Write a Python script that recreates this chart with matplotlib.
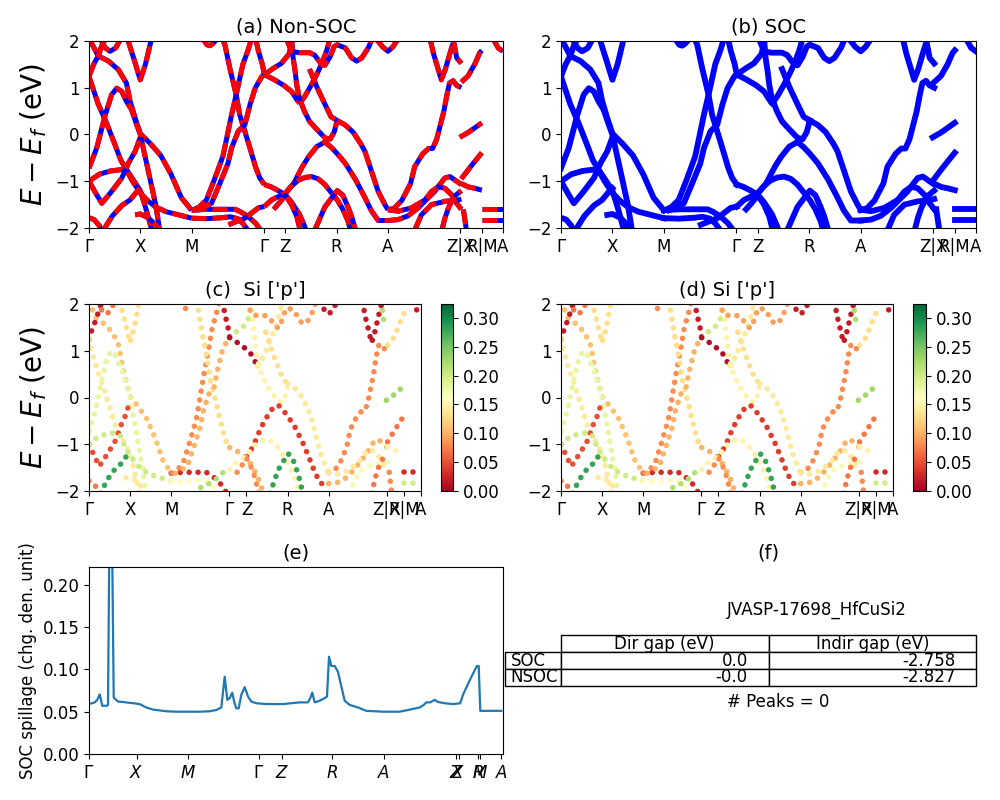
import matplotlib
matplotlib.use("Agg")
import matplotlib.pyplot as plt
from matplotlib.table import Table
from matplotlib import cm, colors

plt.rcParams['font.family'] = ['DejaVu Sans']
plt.rcParams['font.size'] = 12

# ---------------- data ----------------
kticks = [0, 1.0, 2.0, 3.414, 3.829, 4.829, 5.829, 7.243, 7.658, 8.073]
klabels = ['Γ', 'X', 'M', 'Γ', 'Z', 'R', 'A', 'Z|X', 'R|M', 'A']

# bands: (k, E, Si-p weight), grouped by path section
bands_GXM = [
    ([0, 0.1, 0.18, 0.38, 0.57, 0.73, 0.8, 0.9, 1.0, 1.2, 1.4, 1.6, 1.8, 2.0],
     [2.05, 1.85, 1.68, 1.57, 1.39, 1.1, 0.72, 0.35, 0.02, -0.2, -0.45, -0.85, -1.35, -1.62], 0.11),
    ([0, 0.09, 0.18, 0.25, 0.32], [1.24, 1.5, 1.68, 1.9, 2.05], 0.02),
    ([0.22, 0.32, 0.41, 0.52, 0.62], [2.05, 1.85, 1.78, 1.85, 2.05], 0.07),
    ([0, 0.18, 0.34, 0.5, 0.62, 0.73, 0.85, 1.0, 1.1, 1.2, 1.23],
     [1.24, 0.65, 0.25, -0.2, -0.55, -0.75, -0.95, -1.2, -1.55, -1.95, -2.05], 0.14),
    ([0, 0.15, 0.31, 0.44, 0.54, 0.64, 0.73, 0.83, 0.93, 1.0, 1.1, 1.2, 1.3, 1.38],
     [-0.72, -0.29, 0.39, 0.85, 0.99, 0.92, 0.71, 0.53, 0.21, 0.0, -0.5, -1.0, -1.5, -2.05], 0.18),
    ([0.75, 0.88, 1.0, 1.1, 1.22], [2.05, 1.6, 1.17, 1.5, 2.05], 0.13),
    ([0, 0.15, 0.25, 0.44, 0.64, 0.77, 0.9, 1.0],
     [-1.0, -1.29, -1.47, -1.22, -0.93, -0.61, -0.36, -0.06], 0.05),
    ([0, 0.2, 0.42, 0.64, 0.75, 0.85, 1.0, 1.15, 1.3, 1.5, 1.75, 2.0],
     [-1.0, -0.85, -0.78, -0.75, -0.8, -1.0, -1.25, -1.42, -1.55, -1.65, -1.72, -1.79], 0.2),
    ([0, 0.1, 0.2, 0.25], [-1.78, -1.82, -1.95, -2.05], 0.07),
    ([0.28, 0.45, 0.64, 0.8, 0.95, 1.0], [-2.05, -1.75, -1.52, -1.4, -1.2, -1.15], 0.28),
    ([0.9, 1.0, 1.15, 1.3, 1.36], [-1.72, -1.7, -1.78, -1.93, -2.05], 0.14),
]

bands_MG = [
    ([2.0, 2.3, 2.6, 2.85, 2.95, 3.1, 3.25, 3.35],
     [-1.62, -1.6, -1.6, -1.6, -1.65, -1.75, -1.9, -2.05], 0.03),
    ([2.0, 2.3, 2.6, 2.75, 2.9, 3.0, 3.1],
     [-1.79, -1.8, -1.78, -1.76, -1.8, -1.9, -2.05], 0.16),
    ([2.02, 2.15, 2.29, 2.45, 2.61, 2.7, 2.78, 2.87, 3.0, 3.1, 3.17],
     [-1.62, -1.55, -1.4, -0.95, -0.47, 0.0, 0.42, 0.85, 1.5, 1.8, 2.05], 0.08),
    ([2.6, 2.65, 2.75, 2.87, 2.94, 3.1, 3.25, 3.33, 3.42],
     [2.05, 1.92, 1.4, 0.85, 0.42, -0.15, -0.7, -0.93, -1.07], 0.13),
    ([2.1, 2.25, 2.39, 2.55, 2.71, 2.78, 2.91, 3.04, 3.14, 3.24, 3.37, 3.42],
     [-1.62, -1.55, -1.47, -1.05, -0.62, -0.29, 0.07, 0.21, 0.64, 0.99, 1.24, 1.28], 0.1),
    ([3.25, 3.3, 3.38, 3.42], [2.05, 1.8, 1.5, 1.28], 0.02),
    ([2.22, 2.3, 2.36, 2.42, 2.5], [2.05, 1.92, 1.9, 1.95, 2.05], 0.08),
    ([2.72, 3.04, 3.3, 3.42], [-1.93, -1.79, -1.57, -1.54], 0.22),
]

bands_GZRA = [
    ([3.42, 3.6, 3.75, 3.9, 3.97], [1.28, 1.42, 1.52, 1.72, 2.05], 0.2),
    ([3.42, 3.6, 3.8, 3.95, 4.05, 4.11], [1.28, 1.18, 1.05, 0.92, 0.75, 0.67], 0.01),
    ([4.11, 4.21, 4.34, 4.47, 4.55, 4.63, 4.7], [0.67, 0.82, 1.07, 1.35, 1.55, 1.78, 2.05], 0.14),
    ([3.95, 3.98, 4.02, 4.05, 4.1, 4.2, 4.3, 4.45, 4.6, 4.7, 4.78, 4.84],
     [2.05, 1.64, 1.35, 1.07, 0.78, 0.5, 0.28, 0.1, -0.07, -0.1, 0.05, 0.3], 0.15),
    ([4.3, 4.45, 4.6, 4.72, 4.84], [1.4, 1.0, 0.65, 0.38, 0.3], 0.13),
    ([3.85, 3.95, 4.1, 4.3, 4.4, 4.5, 4.6, 4.7, 4.78, 4.84, 5.0, 5.12, 5.22, 5.32, 5.45, 5.52],
     [2.05, 1.78, 1.75, 1.75, 1.7, 1.55, 1.48, 1.66, 1.88, 1.92, 1.85, 1.64, 1.57, 1.64, 1.86, 2.05], 0.09),
    ([3.83, 3.99, 4.16, 4.28, 4.44, 4.6, 4.72, 4.84, 5.0, 5.2, 5.38, 5.5, 5.64, 5.83],
     [-1.26, -1.05, -0.69, -0.48, -0.26, -0.16, -0.27, -0.41, -0.62, -0.97, -1.35, -1.62, -1.84, -1.84], 0.04),
    ([4.84, 5.0, 5.15, 5.3, 5.38, 5.51, 5.64, 5.77, 5.83],
     [0.3, 0.2, 0.05, -0.2, -0.36, -0.79, -1.22, -1.5, -1.61], 0.14),
    ([3.42, 3.55, 3.69, 3.83, 3.95, 4.1, 4.2, 4.23],
     [-1.07, -1.12, -1.2, -1.29, -1.45, -1.7, -1.95, -2.05], 0.1),
    ([3.42, 3.56, 3.69, 3.83, 3.95, 4.08, 4.21, 4.34, 4.47, 4.6, 4.73, 4.84, 4.95, 5.05, 5.1],
     [-1.54, -1.4, -1.33, -1.25, -1.1, -0.98, -0.92, -0.9, -0.95, -1.07, -1.25, -1.4, -1.6, -1.85, -2.05], 0.15),
    ([3.6, 3.72, 3.83, 3.95, 4.05, 4.12], [-1.6, -1.45, -1.3, -1.5, -1.75, -2.05], 0.08),
    ([4.4, 4.5, 4.6, 4.73, 4.84, 4.95, 5.05, 5.12, 5.2],
     [-2.05, -1.8, -1.55, -1.36, -1.2, -1.3, -1.55, -1.75, -2.05], 0.28),
]

bands_AZ = [
    ([5.6, 5.72, 5.83, 5.93, 6.03], [2.05, 1.88, 1.78, 1.88, 2.05], 0.02),
    ([5.83, 5.95, 6.1, 6.27, 6.35, 6.51, 6.62, 6.7, 6.78, 6.85, 6.92, 6.98, 7.03, 7.1, 7.17, 7.26],
     [-1.61, -1.58, -1.41, -1.05, -0.69, -0.41, -0.3, -0.3, -0.1, 0.2, 0.5, 0.85, 1.1, 1.15, 1.05, 1.0], 0.08),
    ([6.65, 6.72, 6.8, 6.87, 6.95, 7.05, 7.13], [2.05, 1.72, 1.43, 1.17, 1.4, 1.78, 2.05], 0.02),
    ([7.1, 7.17, 7.26], [2.05, 1.64, 1.52], 0.22),
    ([5.83, 6.03, 6.22, 6.42, 6.61, 6.74, 6.84, 6.94, 7.04, 7.13, 7.26],
     [-1.84, -1.82, -1.74, -1.57, -1.36, -1.22, -1.07, -0.93, -0.9, -0.97, -1.07], 0.1),
    ([5.83, 6.03, 6.29, 6.55, 6.68, 6.81, 6.94, 7.07, 7.17, 7.26],
     [-1.61, -1.64, -1.57, -1.4, -1.22, -1.12, -1.15, -1.29, -1.47, -1.6], 0.14),
    ([6.35, 6.48, 6.68, 6.94, 7.2, 7.26], [-2.05, -1.72, -1.5, -1.43, -1.4, -1.38], 0.17),
    ([6.88, 6.94, 7.01, 7.07, 7.15, 7.26], [-2.05, -1.79, -1.57, -1.43, -1.3, -1.2], 0.07),
]

bands_XRMA = [
    ([7.26, 7.39, 7.52, 7.62, 7.66], [1.12, 1.25, 1.5, 1.75, 1.8], 0.13),
    ([7.23, 7.39, 7.52, 7.66], [-0.06, 0.04, 0.14, 0.25], 0.23),
    ([7.26, 7.39, 7.52, 7.66], [-0.95, -0.76, -0.58, -0.39], 0.07),
    ([7.26, 7.39, 7.52, 7.66], [-1.05, -1.12, -1.15, -1.19], 0.15),
    ([7.3, 7.36], [-1.6, -2.05], 0.08),
    ([7.66, 7.86, 8.07], [-1.6, -1.6, -1.6], 0.03),
    ([7.66, 7.86, 8.07], [-1.82, -1.82, -1.82], 0.2),
    ([7.88, 7.98, 8.07], [2.05, 1.85, 1.78], 0.02),
]

all_bands = bands_GXM + bands_MG + bands_GZRA + bands_AZ + bands_XRMA

# SOC spillage
spill_ticks = [0, 47.7, 99.4, 170, 193.4, 243.4, 295, 366.7, 369.7, 388.7, 391, 412.4]
spill_labels = ['$\\Gamma$', '$X$', '$M$', '$\\Gamma$', '$Z$', '$R$', '$A$',
                '$Z$', '$X$', '$R$', '$M$', '$A$']
spill_x = [0.0, 5.7, 8.3, 10.7, 13.3, 18.0, 19.0, 20.7, 22.7, 24.7, 29.0, 37.3, 44.0,
           50.7, 57.3, 64.0, 77.3, 87.3, 110.7, 120.7, 127.3, 132.3, 135.7, 138.3,
           140.7, 143.3, 145.3, 147.3, 149.7, 152.3, 155.7, 159.0, 162.3, 167.3,
           177.3, 194.0, 210.7, 219.0, 221.3, 223.3, 225.7, 230.7, 235.7, 238.0,
           240.0, 242.3, 245.7, 249.0, 252.3, 255.7, 260.7, 269.0, 277.3, 294.0,
           310.7, 319.0, 330.7, 334.7, 337.3, 341.3, 345.7, 349.0, 355.7, 364.0,
           371.3, 374.0, 380.7, 385.7, 388.0, 389.7, 391.3, 400.7, 412.3]
spill_y = [0.059, 0.061, 0.064, 0.0705, 0.057, 0.057, 0.058, 0.30, 0.30, 0.0666, 0.062,
           0.061, 0.060, 0.059, 0.055, 0.0525, 0.0505, 0.050, 0.050, 0.0505, 0.052,
           0.055, 0.0914, 0.064, 0.066, 0.0725, 0.061, 0.054, 0.054, 0.070, 0.079,
           0.068, 0.062, 0.060, 0.059, 0.059, 0.061, 0.061, 0.066, 0.0725, 0.061,
           0.063, 0.066, 0.068, 0.115, 0.104, 0.104, 0.097, 0.080, 0.063, 0.058,
           0.055, 0.051, 0.050, 0.050, 0.052, 0.055, 0.058, 0.061, 0.061, 0.064,
           0.0615, 0.060, 0.059, 0.060, 0.070, 0.087, 0.099, 0.104, 0.104, 0.051,
           0.051, 0.051]

table_rows = ['SOC', 'NSOC']
table_cols = ['Dir gap (eV)', 'Indir gap (eV)']
table_vals = [['0.0', '-2.758'], ['-0.0', '-2.827']]
material = 'JVASP-17698_HfCuSi2'
peaks_text = '# Peaks = 0'

# ---------------- figure ----------------
fig = plt.figure(figsize=(10, 8), dpi=100)
W, H = 1000.0, 800.0


def box(x0, y0, x1, y1):
    return [x0 / W, 1 - y1 / H, (x1 - x0) / W, (y1 - y0) / H]


ax_a = fig.add_axes(box(89, 41, 503, 228))
ax_b = fig.add_axes(box(561, 41, 976, 228))
ax_c = fig.add_axes(box(89, 304, 421, 491))
cax_c = fig.add_axes(box(441, 304, 453, 491))
ax_d = fig.add_axes(box(561, 304, 893, 491))
cax_d = fig.add_axes(box(913, 304, 926, 491))
ax_e = fig.add_axes(box(89, 567, 503, 754))
ax_f = fig.add_axes(box(561, 567, 976, 754))

cmap = plt.get_cmap('RdYlGn')
norm = colors.Normalize(vmin=0.0, vmax=0.324)

for k, E, w in all_bands:
    ax_a.plot(k, E, color='blue', lw=3.6, solid_capstyle='butt')
    ax_a.plot(k, E, color='red', lw=3.6, ls=(0, (3.0, 1.2)))
    ax_b.plot(k, E, color='blue', lw=4.2)
    for ax in (ax_c, ax_d):
        ax.plot(k, E, color=cmap(norm(w)), lw=4.0, ls=(0, (0.01, 1.6)),
                dash_capstyle='round')

for ax in (ax_a, ax_b, ax_c, ax_d):
    ax.set_xlim(0, kticks[-1])
    ax.set_ylim(-2, 2)
    ax.set_xticks(kticks)
    ax.set_xticklabels(klabels)
    ax.set_yticks([-2, -1, 0, 1, 2])

ax_a.set_title('(a) Non-SOC', fontsize=14)
ax_b.set_title('(b) SOC', fontsize=14)
ax_c.set_title("(c)  Si ['p']", fontsize=14)
ax_d.set_title("(d) Si ['p']", fontsize=14)
ax_a.set_ylabel('$E - E_f$ (eV)', fontsize=20)
ax_c.set_ylabel('$E - E_f$ (eV)', fontsize=20)

for cax in (cax_c, cax_d):
    sm = cm.ScalarMappable(norm=norm, cmap=cmap)
    fig.colorbar(sm, cax=cax, ticks=[0, 0.05, 0.10, 0.15, 0.20, 0.25, 0.30])
    cax.yaxis.set_major_formatter(matplotlib.ticker.FormatStrFormatter('%.2f'))

# (e) spillage
ax_e.plot(spill_x, spill_y, color='#1f77b4', lw=1.6)
ax_e.set_xlim(0, 414)
ax_e.set_ylim(0, 0.221)
ax_e.set_xticks(spill_ticks)
ax_e.set_xticklabels(spill_labels)
ax_e.set_yticks([0.0, 0.05, 0.10, 0.15, 0.20])
ax_e.yaxis.set_major_formatter(matplotlib.ticker.FormatStrFormatter('%.2f'))
ax_e.set_ylabel('SOC spillage (chg. den. unit)', fontsize=12)
ax_e.set_title('(e)', fontsize=14)

# (f) table panel
ax_f.axis('off')
ax_f.set_title('(f)', fontsize=14)
ax_f.text(0.617, 0.77, material, transform=ax_f.transAxes, ha='center',
          va='center', fontsize=12)
ax_f.text(0.523, 0.28, peaks_text, transform=ax_f.transAxes, ha='center',
          va='center', fontsize=12)

tb = Table(ax_f, bbox=[0.0, 0.364, 1.0, 0.272])
w_lab, w_col, rh = 56 / 415.0, 0.5, 0.272 / 3
for j, lab in enumerate(table_cols):
    tb.add_cell(0, j, width=w_col, height=rh, text=lab, loc='center')
for i, rlab in enumerate(table_rows):
    tb.add_cell(i + 1, -1, width=w_lab, height=rh, text=rlab, loc='left')
    for j, val in enumerate(table_vals[i]):
        tb.add_cell(i + 1, j, width=w_col, height=rh, text=val, loc='right')
tb.auto_set_font_size(False)
tb.set_fontsize(12)
tb.set_clip_on(False)
ax_f.add_table(tb)

fig.savefig('out.png', dpi=100)
